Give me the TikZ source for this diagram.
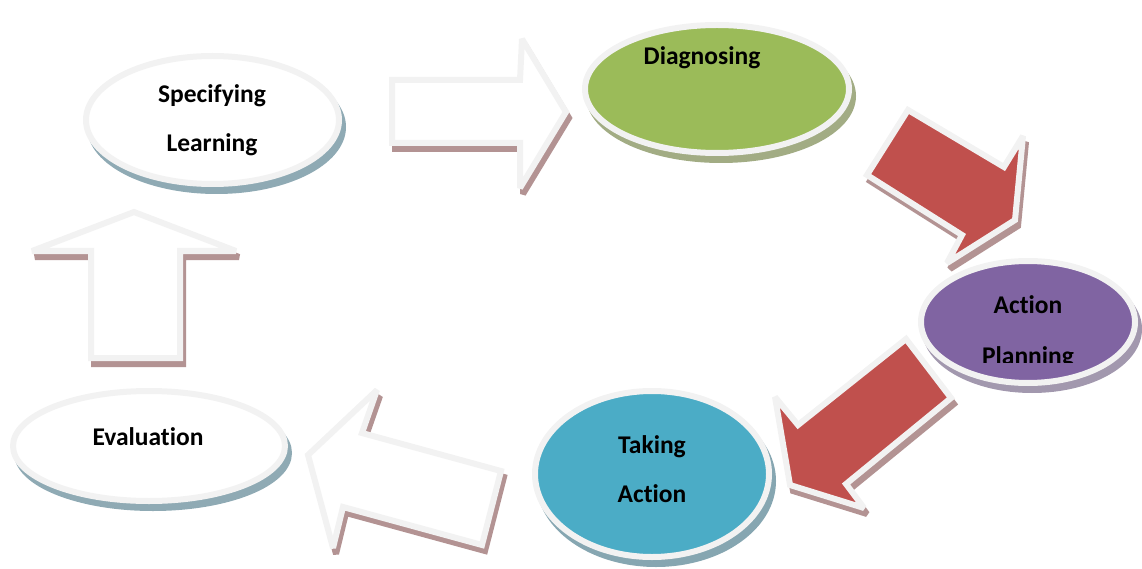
\documentclass[tikz,border=0pt]{standalone}
\usepackage{fontspec}
\setmainfont{Carlito}[Ligatures=NoCommon]
\usetikzlibrary{shapes.geometric}
\definecolor{ringgray}{HTML}{F2F2F2}
\definecolor{arrowred}{HTML}{C0504D}
\definecolor{arrowshade}{HTML}{B39393}
\definecolor{diaggreen}{HTML}{9BBB59}
\definecolor{planpurple}{HTML}{8064A2}
\definecolor{taketeal}{HTML}{4BACC6}
\definecolor{whiteshade}{HTML}{8FAAB4}
\definecolor{greenshade}{HTML}{A2AC84}
\definecolor{purpleshade}{HTML}{A298AE}
\definecolor{tealshade}{HTML}{86A6B1}
\tikzset{
  stage/.style={ellipse,draw=ringgray,line width=6pt,inner sep=0pt},
  stagetext/.style={anchor=base,inner sep=0pt,font=\bfseries\fontsize{25.5}{30}\selectfont},
  blockarrow/.style={draw=ringgray,line width=6pt,line join=miter,miter limit=2,fill=#1},
  arrowshadow/.style={draw=arrowshade,fill=arrowshade,line width=6pt,line join=miter,miter limit=2},
}
\begin{document}
\begin{tikzpicture}[x=1pt,y=-1pt]
  \useasboundingbox (0,0) rectangle (1142,569);
  \path
  (392,80) coordinate (A1) (520,80) coordinate (A2) (522,39) coordinate (A3) (566,112) coordinate (A4)
  (520,188) coordinate (A5) (520,143) coordinate (A6) (392,143) coordinate (A7)
  (908,110) coordinate (B1) (1004,167) coordinate (B2) (1023,136) coordinate (B3) (1015,220) coordinate (B4)
  (947,263) coordinate (B5) (962,235) coordinate (B6) (867,175) coordinate (B7)
  (906,339) coordinate (C1) (951,398) coordinate (C2) (846,484) coordinate (C3) (864,508) coordinate (C4)
  (790,485) coordinate (C5) (775,397) coordinate (C6) (798,425) coordinate (C7)
  (501,471) coordinate (D1) (482,545) coordinate (D2) (343,507) coordinate (D3) (333,548) coordinate (D4)
  (308,455) coordinate (D5) (377,390) coordinate (D6) (362,433) coordinate (D7)
  (134,212) coordinate (E1) (236,251) coordinate (E2) (180,251) coordinate (E3) (180,358) coordinate (E4)
  (91,358) coordinate (E5) (91,251) coordinate (E6) (32,251) coordinate (E7)
  ;
  % shadows of the arrows
  \begin{scope}[transform canvas={shift={(3,6)}}]
    \foreach \a in {A,B,C,D,E}
      \draw[arrowshadow] (\a1)--(\a2)--(\a3)--(\a4)--(\a5)--(\a6)--(\a7)--cycle;
  \end{scope}
  \foreach \a/\c in {A/white,B/arrowred,C/arrowred,D/white,E/white}
    \draw[blockarrow=\c] (\a1)--(\a2)--(\a3)--(\a4)--(\a5)--(\a6)--(\a7)--cycle;
  % stages
  \foreach \nm/\x/\y/\w/\h/\fc/\sc in {
    spec/212.5/120/253/128/white/whiteshade,
    diag/717/89/264/128/diaggreen/greenshade,
    plan/1028/322/214/122/planpurple/purpleshade,
    take/652/474/234/166/taketeal/tealshade,
    eval/149/446/272/110/white/whiteshade}{
    \node[stage,draw=\sc,fill=\sc,minimum width=\w,minimum height=\h] (\nm shade) at (\x+4,\y+7) {};
    \node[stage,fill=\fc,minimum width=\w,minimum height=\h] (\nm) at (\x,\y) {};
  }
  \foreach \nm/\x/\y/\t in {spec1/212/103/Specifying,spec2/212/152/Learning,diag1/702/65/Diagnosing,
    plan1/1028/313/Action,take1/652/453/Taking,take2/652/502/Action,eval1/148/445/Evaluation}
    \node[stagetext] (\nm) at (\x,\y) {\t};
  \begin{scope}
    \clip (900,250) rectangle (1142,362);
    \node[stagetext] (plan2) at (1028,364) {Planning};
  \end{scope}
\end{tikzpicture}
\end{document}
